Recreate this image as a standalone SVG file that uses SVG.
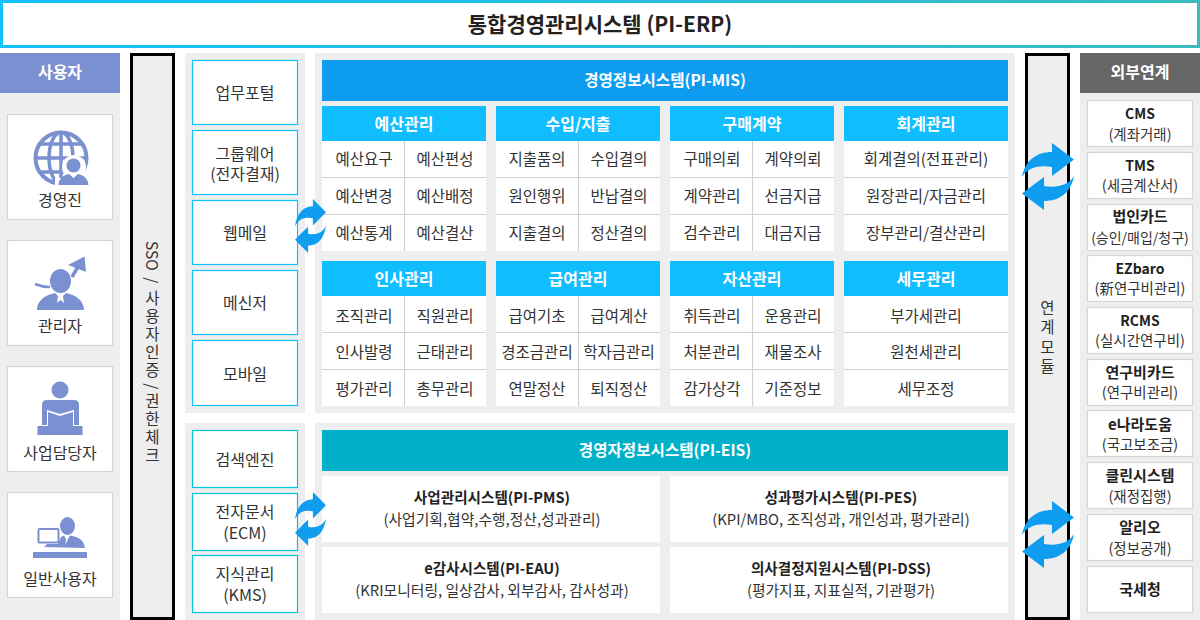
<svg xmlns="http://www.w3.org/2000/svg" width="1200" height="620" viewBox="0 0 1200 620">
<style>
text{font-family:"Noto Sans CJK KR","Noto Sans",sans-serif;text-anchor:middle;fill:#333;font-size:15.500px}
.b{font-weight:700;fill:#222}
.w{font-weight:700;fill:#fff;font-size:16px}
.t{font-size:21px}
.bt{font-size:15.600px}
.m{font-size:16px}
.e1{font-size:14.600px}
.e2{font-size:14.800px}
.x1{font-size:14px}
.x1k{font-size:15px}
.x2{font-size:14.500px}
.x3{font-size:14px}
.panel{fill:#eee}
.card{fill:#fff;stroke:#d6d6d6;stroke-width:1.200}
.sys{fill:#fff;stroke:#12c0ff;stroke-width:1.200}
.sys2{fill:#fff;stroke:#00c4e0;stroke-width:1.200}
.sub{fill:#10bdff}
.bar{fill:#eee;stroke:#000;stroke-width:3}
.cell{fill:#fff}
.ln{stroke:#d2d2d2;stroke-width:1.200;fill:none}
.ic{fill:#7a90d0}
.ics{fill:none;stroke:#7a90d0}
.v{writing-mode:vertical-rl;text-anchor:start}
.ws{word-spacing:3px}
.ls{letter-spacing:2.500px}
.ls2{letter-spacing:4px}
</style>
<defs>
<linearGradient id="tg" x1="0" x2="1" y1="0" y2="0"><stop offset="0" stop-color="#12c2ff"/><stop offset="1" stop-color="#3abdbf"/></linearGradient>
<symbol id="sync" viewBox="0 0 52 67" preserveAspectRatio="none">
<path fill="#0f9df0" d="M0,34C3,17 15,9 30,9V0L52,16.500 30,33V24C18,22 6,24 0,34Z"/>
<path fill="#0f9df0" d="M52,33C49,50 37,58 22,58V67L0,50.500 22,34V43C34,45 46,43 52,33Z"/>
</symbol>
</defs>

<g id="title"><rect x="1.500" y="1.500" width="1197" height="45" fill="#fff" stroke="url(#tg)" stroke-width="3"/><text x="600" y="32" class="b t">통합경영관리시스템 (PI-ERP)</text></g>

<g id="users">
<rect class="panel" x="0" y="53" width="120" height="567"/>
<rect x="0" y="53" width="120" height="40" fill="#7a90d0"/>
<text x="60" y="78" class="w">사용자</text>
</g>
<g id="user-exec">
<rect class="card" x="7.500" y="114.500" width="105" height="105"/>
<circle class="ics" cx="61" cy="158" r="25.500" stroke-width="4"/>
<ellipse class="ics" cx="61" cy="158" rx="12" ry="25.500" stroke-width="3.500"/>
<path class="ics" stroke-width="3.500" d="M61,132V184M36,158H87M40,144H82M40,172H82"/>
<circle cx="74" cy="167" r="12" fill="#fff"/>
<path d="M55,187V178H92V187Z" fill="#fff"/>
<circle class="ic" cx="73.500" cy="165.500" r="7"/>
<path class="ic" d="M58.500,185C59,178 64,175 69,174L73.500,178 78,174C83,175 88,178 88.500,185Z"/>
<text x="60" y="206" class="m">경영진</text>
</g>
<g id="user-admin">
<rect class="card" x="7.500" y="240.500" width="105" height="105"/>
<ellipse class="ic" cx="60.500" cy="281" rx="10.500" ry="12"/>
<path class="ic" d="M37,310C37,300 46,295 55,293L58,296 57,303 60.500,300 64,303 63,296 66,293C75,295 84,300 84,310Z"/>
<path class="ics" stroke-width="2.500" d="M35,284Q42,287 50,287"/>
<path class="ics" stroke-width="3.500" d="M72,277L79,265"/>
<path class="ic" d="M68,265L84.500,256.500 86,272Z"/>
<text x="60" y="332" class="m">관리자</text>
</g>
<g id="user-staff">
<rect class="card" x="7.500" y="366.500" width="105" height="105"/>
<circle class="ic" cx="60" cy="390" r="8.500"/>
<path class="ic" d="M42,425V405Q42,400 47,400H74Q79,400 79,405V425H74V410L60,414 47,410V425Z"/>
<path class="ic" d="M48,412L60,416 73,412V426H48Z"/>
<rect class="ic" x="37.500" y="426" width="45" height="9"/>
<text x="60" y="459" class="m">사업담당자</text>
</g>
<g id="user-general">
<rect class="card" x="7.500" y="492.500" width="105" height="105"/>
<ellipse class="ic" cx="67.500" cy="526" rx="7.500" ry="9"/>
<rect x="38.500" y="529" width="20" height="13.500" rx="1" fill="#fff" stroke="#7a90d0" stroke-width="2"/>
<path class="ic" d="M44,547L47,544H58L61,537 64,535.500 66,539 65.500,545 68,539 70,535.500C80,537 84,541 85,548Z"/>
<rect class="ic" x="33" y="552" width="54" height="6"/>
<text x="60" y="585" class="m">일반사용자</text>
</g>

<g id="sso"><rect class="bar" x="131.500" y="54.500" width="42" height="564"/>
<text class="v" x="152.500" y="241"><tspan class="ws">SSO / </tspan><tspan class="ls">사용자인증</tspan> / <tspan class="ls">권한체크</tspan></text></g>

<rect class="panel" x="185" y="53" width="120" height="360"/>
<rect class="panel" x="185" y="423" width="120" height="197"/>
<rect class="panel" x="315" y="53" width="700" height="360"/>
<rect class="panel" x="315" y="423" width="700" height="197"/>

<g id="portal"><rect class="sys" x="192.500" y="60.500" width="105" height="64"/><text x="245" y="99" class="m">업무포털</text></g>
<g id="groupware"><rect class="sys" x="192.500" y="130.500" width="105" height="64"/><text class="m"><tspan x="245" y="160">그룹웨어</tspan><tspan x="245" y="180">(전자결재)</tspan></text></g>
<g id="webmail"><rect class="sys" x="192.500" y="200.500" width="105" height="64"/><text x="245" y="239" class="m">웹메일</text></g>
<g id="messenger"><rect class="sys" x="192.500" y="270.500" width="105" height="64"/><text x="245" y="309" class="m">메신저</text></g>
<g id="mobile"><rect class="sys" x="192.500" y="340.500" width="105" height="65"/><text x="245" y="380" class="m">모바일</text></g>
<g id="search"><rect class="sys2" x="192.500" y="430.500" width="105" height="57"/><text x="245" y="466" class="m">검색엔진</text></g>
<g id="ecm"><rect class="sys2" x="192.500" y="493.500" width="105" height="57"/><text class="m"><tspan x="245" y="518">전자문서</tspan><tspan x="245" y="539">(ECM)</tspan></text></g>
<g id="kms"><rect class="sys2" x="192.500" y="555.500" width="105" height="57"/><text class="m"><tspan x="245" y="580">지식관리</tspan><tspan x="245" y="601">(KMS)</tspan></text></g>

<g id="mis"><rect x="322" y="60" width="686" height="41" fill="#0e9cf0"/><text x="665" y="86" class="w bt">경영정보시스템(PI-MIS)</text></g>

<g id="m-budget"><rect class="sub" x="322" y="106" width="164" height="35"/><text x="404" y="130" class="w">예산관리</text>
<rect class="cell" x="322" y="141" width="164" height="110"/><path class="ln" d="M322,177.500H486M322,214.500H486M404.500,141V251"/>
<text x="364" y="165">예산요구</text><text x="445" y="165">예산편성</text><text x="364" y="202">예산변경</text><text x="445" y="202">예산배정</text><text x="364" y="239">예산통계</text><text x="445" y="239">예산결산</text></g>
<g id="m-revenue"><rect class="sub" x="496" y="106" width="164" height="35"/><text x="578" y="130" class="w">수입/지출</text>
<rect class="cell" x="496" y="141" width="164" height="110"/><path class="ln" d="M496,177.500H660M496,214.500H660M578.500,141V251"/>
<text x="537" y="165">지출품의</text><text x="619" y="165">수입결의</text><text x="537" y="202">원인행위</text><text x="619" y="202">반납결의</text><text x="537" y="239">지출결의</text><text x="619" y="239">정산결의</text></g>
<g id="m-purchase"><rect class="sub" x="670" y="106" width="164" height="35"/><text x="752" y="130" class="w">구매계약</text>
<rect class="cell" x="670" y="141" width="164" height="110"/><path class="ln" d="M670,177.500H834M670,214.500H834M752.500,141V251"/>
<text x="712" y="165">구매의뢰</text><text x="793" y="165">계약의뢰</text><text x="712" y="202">계약관리</text><text x="793" y="202">선금지급</text><text x="712" y="239">검수관리</text><text x="793" y="239">대금지급</text></g>
<g id="m-account"><rect class="sub" x="844" y="106" width="164" height="35"/><text x="926" y="130" class="w">회계관리</text>
<rect class="cell" x="844" y="141" width="164" height="110"/><path class="ln" d="M844,177.500H1008M844,214.500H1008"/>
<text x="926" y="165">회계결의(전표관리)</text><text x="926" y="202">원장관리/자금관리</text><text x="926" y="239">장부관리/결산관리</text></g>

<g id="m-hr"><rect class="sub" x="322" y="261" width="164" height="35"/><text x="404" y="285" class="w">인사관리</text>
<rect class="cell" x="322" y="296" width="164" height="110"/><path class="ln" d="M322,332.500H486M322,369.500H486M404.500,296V406"/>
<text x="364" y="322">조직관리</text><text x="445" y="322">직원관리</text><text x="364" y="358">인사발령</text><text x="445" y="358">근태관리</text><text x="364" y="395">평가관리</text><text x="445" y="395">총무관리</text></g>
<g id="m-pay"><rect class="sub" x="496" y="261" width="164" height="35"/><text x="578" y="285" class="w">급여관리</text>
<rect class="cell" x="496" y="296" width="164" height="110"/><path class="ln" d="M496,332.500H660M496,369.500H660M578.500,296V406"/>
<text x="537" y="322">급여기초</text><text x="619" y="322">급여계산</text><text x="537" y="358">경조금관리</text><text x="619" y="358">학자금관리</text><text x="537" y="395">연말정산</text><text x="619" y="395">퇴직정산</text></g>
<g id="m-asset"><rect class="sub" x="670" y="261" width="164" height="35"/><text x="752" y="285" class="w">자산관리</text>
<rect class="cell" x="670" y="296" width="164" height="110"/><path class="ln" d="M670,332.500H834M670,369.500H834M752.500,296V406"/>
<text x="712" y="322">취득관리</text><text x="793" y="322">운용관리</text><text x="712" y="358">처분관리</text><text x="793" y="358">재물조사</text><text x="712" y="395">감가상각</text><text x="793" y="395">기준정보</text></g>
<g id="m-tax"><rect class="sub" x="844" y="261" width="164" height="35"/><text x="926" y="285" class="w">세무관리</text>
<rect class="cell" x="844" y="296" width="164" height="110"/><path class="ln" d="M844,332.500H1008M844,369.500H1008"/>
<text x="926" y="322">부가세관리</text><text x="926" y="358">원천세관리</text><text x="926" y="395">세무조정</text></g>

<g id="eis"><rect x="322" y="430" width="686" height="41" fill="#00afc8"/><text x="665" y="456" class="w bt">경영자정보시스템(PI-EIS)</text></g>
<g id="pms"><rect class="cell" x="322" y="476" width="338" height="66"/><text x="492" y="503" class="b e1">사업관리시스템(PI-PMS)</text><text x="492" y="525" class="e2">(사업기획,협약,수행,정산,성과관리)</text></g>
<g id="pes"><rect class="cell" x="670" y="476" width="338" height="66"/><text x="841" y="503" class="b e1">성과평가시스템(PI-PES)</text><text x="841" y="525" class="e2">(KPI/MBO, 조직성과, 개인성과, 평가관리)</text></g>
<g id="eau"><rect class="cell" x="322" y="547" width="338" height="66"/><text x="492" y="574" class="b e1">e감사시스템(PI-EAU)</text><text x="492" y="596" class="e2">(KRI모니터링, 일상감사, 외부감사, 감사성과)</text></g>
<g id="dss"><rect class="cell" x="670" y="547" width="338" height="66"/><text x="841" y="574" class="b e1">의사결정지원시스템(PI-DSS)</text><text x="841" y="596" class="e2">(평가지표, 지표실적, 기관평가)</text></g>

<g id="link"><rect class="bar" x="1026.500" y="54.500" width="42" height="564"/>
<text class="v ls2" x="1047.500" y="300">연계모듈</text></g>

<g id="external">
<rect class="panel" x="1080" y="53" width="120" height="567"/>
<rect x="1080" y="53" width="120" height="40" fill="#666"/>
<text x="1140" y="78" class="w">외부연계</text>
</g>
<g id="x-cms"><rect class="card" x="1087.500" y="100.500" width="105" height="46"/><text x="1140" y="119" class="b x1">CMS</text><text x="1140" y="140" class="x2">(계좌거래)</text></g>
<g id="x-tms"><rect class="card" x="1087.500" y="152.500" width="105" height="46"/><text x="1140" y="171" class="b x1">TMS</text><text x="1140" y="191" class="x2">(세금계산서)</text></g>
<g id="x-card"><rect class="card" x="1087.500" y="204.500" width="105" height="46"/><text x="1140" y="222" class="b x1k">법인카드</text><text x="1140" y="243" class="x3">(승인/매입/청구)</text></g>
<g id="x-ezbaro"><rect class="card" x="1087.500" y="255.500" width="105" height="46"/><text x="1140" y="274" class="b x1">EZbaro</text><text x="1140" y="294" class="x2">(新연구비관리)</text></g>
<g id="x-rcms"><rect class="card" x="1087.500" y="307.500" width="105" height="46"/><text x="1140" y="326" class="b x1">RCMS</text><text x="1140" y="346" class="x2">(실시간연구비)</text></g>
<g id="x-rcard"><rect class="card" x="1087.500" y="359.500" width="105" height="46"/><text x="1140" y="378" class="b x1k">연구비카드</text><text x="1140" y="398" class="x2">(연구비관리)</text></g>
<g id="x-enara"><rect class="card" x="1087.500" y="410.500" width="105" height="46"/><text x="1140" y="430" class="b x1k">e나라도움</text><text x="1140" y="450" class="x2">(국고보조금)</text></g>
<g id="x-clean"><rect class="card" x="1087.500" y="462.500" width="105" height="46"/><text x="1140" y="481" class="b x1k">클린시스템</text><text x="1140" y="502" class="x2">(재정집행)</text></g>
<g id="x-alio"><rect class="card" x="1087.500" y="514.500" width="105" height="46"/><text x="1140" y="533" class="b x1k">알리오</text><text x="1140" y="554" class="x2">(정보공개)</text></g>
<g id="x-nts"><rect class="card" x="1087.500" y="566.500" width="105" height="46"/><text x="1140" y="595" class="b x1k">국세청</text></g>

<g id="connectors">
<use href="#sync" x="295" y="199" width="31" height="54"/>
<use href="#sync" x="295" y="492" width="31" height="54"/>
<use href="#sync" x="1022" y="143" width="52" height="67"/>
<use href="#sync" x="1022" y="501" width="52" height="67"/>
</g>
</svg>
